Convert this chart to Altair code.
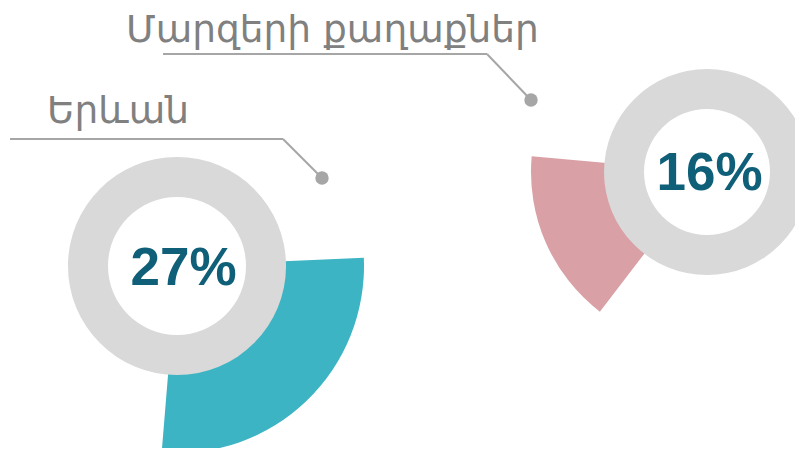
import math
import altair as alt
import pandas as pd

# ---- data ----
labels = ["Երևան", "Մարզերի քաղաքներ"]
shares = [27, 16]

# ---- style / layout ----
wedge_colors = ["#3cb4c4", "#d9a0a6"]
ring_color = "#d9d9d9"
pct_color = "#0f5f79"
label_color = "#808080"
line_color = "#a6a6a6"
TAU = 2 * math.pi

# per-donut layout: center, ring radii, wedge radius, start angle (deg), text pos, label pos, callout
layout = [
    dict(cx=169, cy=258, r_in=69, r_out=109, r_w=187, start=87.5,
         tx=175.5, ty=277, lx=39, ly=115,
         hx1=2, hx2=275, hy=131, dx=314, dy=170),
    dict(cx=699, cy=164, r_in=63, r_out=103, r_w=176, start=217.5,
         tx=701.5, ty=182, lx=118, ly=34,
         hx1=155, hx2=479, hy=46, dx=523, dy=92),
]

layers = []
for i, (lab, sh, L) in enumerate(zip(labels, shares, layout)):
    df = pd.DataFrame({"label": [lab], "share": [sh]})
    base = alt.Chart(df)
    a0 = math.radians(L["start"])
    wedge = base.mark_arc(innerRadius=L["r_in"] + 10, outerRadius=L["r_w"],
                          color=wedge_colors[i]).encode(
        theta=alt.Theta("share:Q", stack=True,
                        scale=alt.Scale(domain=[0, 100], range=[a0, a0 + TAU])),
        x=alt.value(L["cx"]), y=alt.value(L["cy"]),
    )
    ring = base.mark_arc(innerRadius=L["r_in"], outerRadius=L["r_out"],
                         theta=0, theta2=TAU, color=ring_color).encode(
        x=alt.value(L["cx"]), y=alt.value(L["cy"]),
    )
    pct = base.transform_calculate(pct="datum.share + '%'").mark_text(
        font="Liberation Sans", fontSize=53, fontWeight="bold", color=pct_color,
        align="center", baseline="alphabetic").encode(
        text="pct:N", x=alt.value(L["tx"]), y=alt.value(L["ty"]),
    )
    title = base.mark_text(font="DejaVu Sans", fontSize=37.5, color=label_color,
                           align="left", baseline="alphabetic").encode(
        text="label:N", x=alt.value(L["lx"]), y=alt.value(L["ly"]),
    )
    hline = base.mark_rule(color=line_color, strokeWidth=2).encode(
        x=alt.value(L["hx1"]), x2=alt.value(L["hx2"]),
        y=alt.value(L["hy"]), y2=alt.value(L["hy"]),
    )
    dline = base.mark_rule(color=line_color, strokeWidth=2).encode(
        x=alt.value(L["hx2"]), x2=alt.value(L["dx"]),
        y=alt.value(L["hy"]), y2=alt.value(L["dy"]),
    )
    dot = base.mark_point(filled=True, opacity=1, size=180, color=line_color).encode(
        x=alt.value(L["dx"]), y=alt.value(L["dy"]),
    )
    layers += [wedge, ring, pct, title, hline, dline, dot]

chart = alt.layer(*layers).resolve_scale(theta="independent").properties(
    width=787, height=440, padding=0,
    autosize=alt.AutoSizeParams(type="fit", contains="padding"),
    background="white",
).configure_view(stroke=None)

chart.save("out.html", embed_options={"renderer": "svg", "actions": False})
